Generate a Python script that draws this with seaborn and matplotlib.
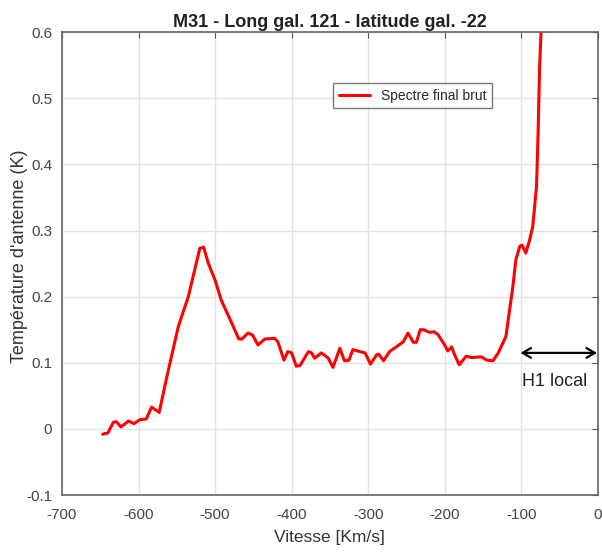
import numpy as np
import pandas as pd
import matplotlib
matplotlib.use("Agg")
import matplotlib.pyplot as plt
import seaborn as sns

# Spectre (vitesse en km/s, temperature d'antenne en K)
vitesse = [-647, -640, -633, -629, -623, -613, -606, -598, -590, -583, -573,
           -563, -552, -548, -535, -520, -515, -509, -500, -492, -481, -469,
           -465, -457, -451, -444, -435, -422, -418, -410, -405, -400, -394,
           -389, -378, -374, -370, -361, -352, -346, -337, -331, -325, -320,
           -311, -304, -297, -289, -286, -280, -272, -261, -254, -248, -241,
           -237, -232, -227, -220, -214, -209, -200, -196, -191, -187, -181,
           -172, -165, -152, -145, -137, -130, -120, -111, -107, -102, -99,
           -94, -89, -85, -80, -78, -76, -74, -72]
temperature = [-0.008, -0.006, 0.010, 0.011, 0.003, 0.012, 0.008, 0.014, 0.015,
               0.033, 0.025, 0.079, 0.135, 0.155, 0.200, 0.273, 0.275, 0.251,
               0.225, 0.195, 0.167, 0.136, 0.136, 0.145, 0.142, 0.127, 0.136,
               0.137, 0.132, 0.104, 0.117, 0.115, 0.095, 0.096, 0.117, 0.115,
               0.107, 0.115, 0.107, 0.093, 0.122, 0.103, 0.104, 0.120, 0.117,
               0.115, 0.098, 0.112, 0.113, 0.103, 0.117, 0.126, 0.132, 0.145,
               0.131, 0.131, 0.150, 0.150, 0.146, 0.147, 0.143, 0.127, 0.118,
               0.124, 0.112, 0.097, 0.110, 0.108, 0.109, 0.104, 0.103, 0.115,
               0.140, 0.215, 0.256, 0.276, 0.278, 0.266, 0.286, 0.306, 0.367,
               0.447, 0.548, 0.604, 0.650]

df = pd.DataFrame({"Vitesse": vitesse, "Temperature": temperature})

sns.set_style("white")
plt.rcParams["font.family"] = ["Liberation Sans", "DejaVu Sans"]
plt.rcParams["axes.unicode_minus"] = False

fig = plt.figure(figsize=(6.02, 5.55), dpi=100)
ax = fig.add_axes([0.103, 0.108, 0.890, 0.834])

sns.lineplot(data=df, x="Vitesse", y="Temperature", color="#ff0000",
             linewidth=2.2, label="Spectre final brut", ax=ax)

ax.set_xlim(-700, 0)
ax.set_ylim(-0.1, 0.6)
ax.set_xticks(np.arange(-700, 1, 100))
ax.set_yticks(np.arange(-0.1, 0.61, 0.1))
ax.set_yticklabels(["-0.1", "0", "0.1", "0.2", "0.3", "0.4", "0.5", "0.6"])
ax.grid(True, color="#e3e3e3", linewidth=1)
ax.tick_params(direction="in", top=True, right=True, length=4,
               colors="#555555", labelcolor="#444444", labelsize=11)
ax.tick_params(axis="x", pad=9)
ax.tick_params(axis="y", pad=7)
for s in ax.spines.values():
    s.set_color("#666666")
    s.set_linewidth(1.2)

ax.set_title("M31 - Long gal. 121 - latitude gal. -22", fontsize=13,
             fontweight="bold", color="#222222", pad=4)
ax.set_xlabel("Vitesse [Km/s]", fontsize=12.5, color="#333333", labelpad=6)
ax.set_ylabel("Température d'antenne (K)", fontsize=13, color="#333333")
ax.yaxis.set_label_coords(-0.063, 0.515)

leg = ax.legend(loc="upper right", bbox_to_anchor=(0.815, 0.905), fontsize=10,
                frameon=True, fancybox=False, handlelength=2.2)
leg.get_frame().set_edgecolor("#555555")
leg.get_frame().set_linewidth(1)

ax.annotate("", xy=(-1, 0.115), xytext=(-101, 0.115),
            arrowprops=dict(arrowstyle="<->,head_length=0.6,head_width=0.35",
                            color="black", lw=1.6, shrinkA=0, shrinkB=0))
ax.text(-57, 0.072, "H1 local", ha="center", va="center", fontsize=13,
        color="#222222")

fig.savefig("out.png", dpi=100)
